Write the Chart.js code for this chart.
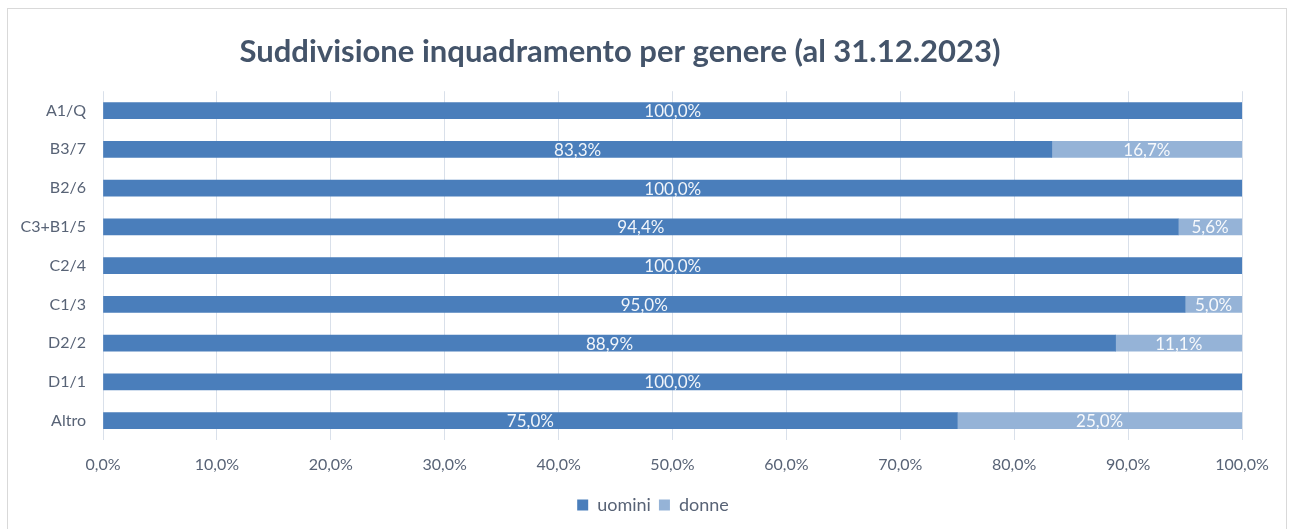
<!DOCTYPE html>
<html>
<head>
<meta charset="utf-8">
<script src="https://cdn.jsdelivr.net/npm/chart.js@4/dist/chart.umd.min.js"></script>
<style>
  html, body { margin: 0; padding: 0; background: #fff; }
  #frame { position: absolute; left: 7px; top: 8px; width: 1278px; height: 540px; border: 1px solid #d9d9d9; }
  #wrap { position: absolute; left: 0; top: 0; width: 1289px; height: 529px; }
</style>
</head>
<body>
<div id="frame"></div>
<div id="wrap"><canvas id="c" width="1289" height="529"></canvas></div>
<script>
const categories = ["A1/Q", "B3/7", "B2/6", "C3+B1/5", "C2/4", "C1/3", "D2/2", "D1/1", "Altro"];
const uomini = [100.0, 83.3, 100.0, 94.4, 100.0, 95.0, 88.9, 100.0, 75.0];
const donne  = [0.0, 16.7, 0.0, 5.6, 0.0, 5.0, 11.1, 0.0, 25.0];
const seriesNames = ["uomini", "donne"];
const xTicks = [0, 10, 20, 30, 40, 50, 60, 70, 80, 90, 100];

const fmt = v => v.toFixed(1).replace('.', ',') + '%';
const FONT = "Lato, 'Open Sans', sans-serif";

const labelPlugin = {
  id: 'barLabels',
  afterDatasetsDraw(chart) {
    const ctx = chart.ctx;
    ctx.save();
    ctx.font = "17px " + FONT;
    ctx.fillStyle = "rgba(255,255,255,0.92)";
    ctx.textAlign = "center";
    ctx.textBaseline = "middle";
    chart.data.datasets.forEach((ds, di) => {
      const meta = chart.getDatasetMeta(di);
      meta.data.forEach((bar, i) => {
        const v = ds.data[i];
        if (!v) return;
        const x = (bar.x + bar.base) / 2;
        ctx.fillText(fmt(v), x, bar.y + 1);
      });
    });
    ctx.restore();
  }
};

const shiftPlugin = {
  id: 'shiftBoxes',
  afterLayout(chart) {
    if (chart.legend) { chart.legend.left += 27; chart.legend.right += 27; }
    if (chart.titleBlock) { chart.titleBlock.left -= 6; chart.titleBlock.right -= 6; }
  }
};

new Chart(document.getElementById('c'), {
  type: 'bar',
  data: {
    labels: categories,
    datasets: [
      { label: seriesNames[0], data: uomini, backgroundColor: '#4a7ebb', borderWidth: 0, barThickness: 16 },
      { label: seriesNames[1], data: donne, backgroundColor: '#95b3d7', borderWidth: 0, barThickness: 16 }
    ]
  },
  options: {
    indexAxis: 'y',
    responsive: false,
    animation: false,
    devicePixelRatio: 1,
    layout: { padding: { left: 10, right: 47, top: 0, bottom: 5 } },
    plugins: {
      title: {
        display: true,
        text: 'Suddivisione inquadramento per genere (al 31.12.2023)',
        color: '#44546a',
        font: { family: FONT, size: 31, weight: 'bold' },
        padding: { top: 33, bottom: 21 }
      },
      legend: {
        position: 'bottom',
        labels: {
          color: '#586376',
          font: { family: FONT, size: 18 },
          boxWidth: 11, boxHeight: 11, padding: 8
        }
      },
      tooltip: { enabled: false }
    },
    scales: {
      x: {
        stacked: true,
        min: 0, max: 100,
        afterBuildTicks(scale) { scale.ticks = xTicks.map(v => ({ value: v })); },
        ticks: {
          color: '#586376',
          font: { family: FONT, size: 16 },
          padding: 15,
          callback: v => fmt(v),
          maxRotation: 0
        },
        grid: { color: '#d9e0ea', drawTicks: false },
        border: { display: false },
        afterFit(scale) { scale.height = 48; }
      },
      y: {
        stacked: true,
        ticks: {
          color: '#586376',
          font: { family: FONT, size: 16 },
          padding: 17
        },
        grid: { display: false, drawTicks: false },
        border: { display: false },
        afterFit(scale) { scale.width = 93; }
      }
    }
  },
  plugins: [labelPlugin, shiftPlugin]
});
</script>
</body>
</html>
